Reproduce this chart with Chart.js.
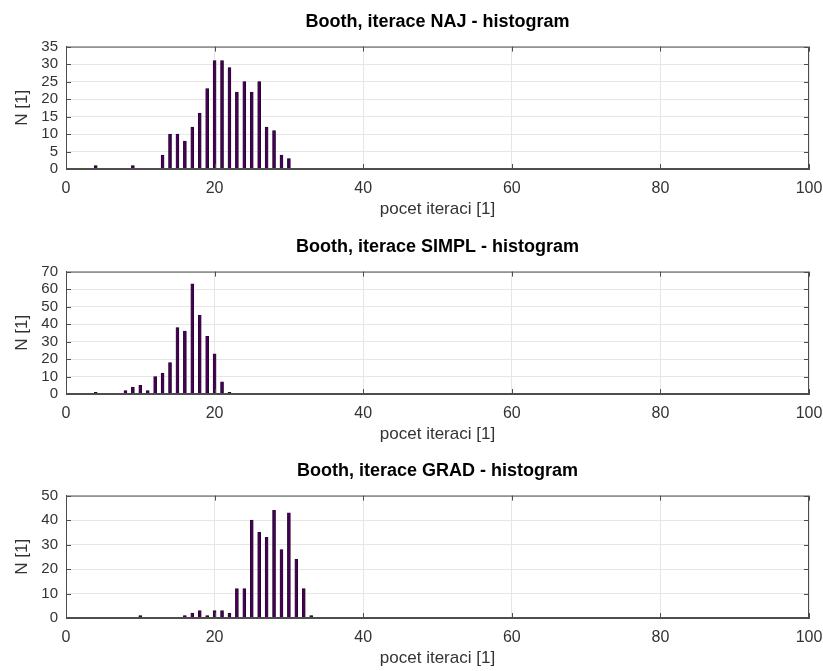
<!DOCTYPE html>
<html>
<head>
<meta charset="utf-8">
<script src="https://cdn.jsdelivr.net/npm/chart.js@4"></script>
<style>
  body { margin: 0; background: #fff; }
  .plot { position: absolute; left: 0; width: 823px; height: 224px; }
</style>
</head>
<body>
<div class="plot" style="top:0"><canvas id="naj"></canvas></div>
<div class="plot" style="top:225px"><canvas id="simpl"></canvas></div>
<div class="plot" style="top:449px"><canvas id="grad"></canvas></div>
<script>
// pocty iteraci a jejich cetnosti pro jednotlive metody
const najIter = [4, 9, 13, 14, 15, 16, 17, 18, 19, 20, 21, 22, 23, 24, 25, 26, 27, 28, 29, 30];
const najN    = [1, 1, 4, 10, 10, 8, 12, 16, 23, 31, 31, 29, 22, 25, 22, 25, 12, 11, 4, 3];

const simplIter = [4, 8, 9, 10, 11, 12, 13, 14, 15, 16, 17, 18, 19, 20, 21, 22];
const simplN    = [1, 2, 4, 5, 2, 10, 12, 18, 38, 36, 63, 45, 33, 23, 7, 1];

const gradIter = [10, 16, 17, 18, 19, 20, 21, 22, 23, 24, 25, 26, 27, 28, 29, 30, 31, 32, 33];
const gradN    = [1, 1, 2, 3, 1, 3, 3, 2, 12, 12, 40, 35, 33, 44, 28, 43, 24, 12, 1];

const xTicks = [0, 20, 40, 60, 80, 100];

const FONT = "'Liberation Sans', Arial, sans-serif";
const AXIS = '#4d4d4d';

// ramecek okolo grafu a kratke znacky smerem dovnitr
const boxPlugin = {
  id: 'box',
  afterDraw(chart) {
    const { ctx, chartArea: a, scales } = chart;
    ctx.save();
    ctx.strokeStyle = AXIS;
    ctx.lineWidth = 1;
    ctx.strokeRect(a.left + 0.5, a.top + 0.5, a.right - a.left - 1, a.bottom - a.top - 1);
    ctx.beginPath();
    scales.x.ticks.forEach(t => {
      const px = Math.round(scales.x.getPixelForValue(t.value)) + 0.5;
      ctx.moveTo(px, a.top); ctx.lineTo(px, a.top + 5);
      ctx.moveTo(px, a.bottom); ctx.lineTo(px, a.bottom - 5);
    });
    scales.y.ticks.forEach(t => {
      const py = Math.round(scales.y.getPixelForValue(t.value)) + 0.5;
      ctx.moveTo(a.left, py); ctx.lineTo(a.left + 5, py);
      ctx.moveTo(a.right, py); ctx.lineTo(a.right - 5, py);
    });
    ctx.stroke();
    ctx.restore();
  }
};

function histogram(id, title, iter, counts, yMax, yStep) {
  new Chart(document.getElementById(id), {
    type: 'bar',
    data: {
      datasets: [{
        data: iter.map((v, i) => ({ x: v, y: counts[i] })),
        backgroundColor: '#440154',
        borderColor: '#1a0a1e',
        borderWidth: 0.6,
        barThickness: 3
      }]
    },
    options: {
      responsive: true,
      maintainAspectRatio: false,
      animation: false,
      layout: { padding: { left: 12, right: 0, top: 0, bottom: 4 } },
      plugins: {
        legend: { display: false },
        tooltip: { enabled: false },
        title: {
          display: true,
          fullSize: false,
          text: title,
          color: '#000',
          font: { family: FONT, size: 18, weight: 'bold' },
          padding: { top: 11, bottom: 14 }
        }
      },
      scales: {
        x: {
          type: 'linear',
          offset: false,
          min: 0,
          max: 100,
          afterBuildTicks: s => { s.ticks = xTicks.map(v => ({ value: v })); },
          afterFit: s => { s.height = 51; s.paddingRight = 14; },
          ticks: { color: '#333', font: { family: FONT, size: 16 }, padding: 10 },
          grid: { color: '#e6e6e6', drawTicks: false, offset: false },
          border: { color: AXIS },
          title: {
            display: true,
            text: 'pocet iteraci [1]',
            color: '#333',
            font: { family: FONT, size: 17 },
            padding: { top: 0, bottom: 0 }
          }
        },
        y: {
          min: 0,
          max: yMax,
          afterFit: s => { s.width = 54; },
          ticks: { stepSize: yStep, autoSkip: false, color: '#333', font: { family: FONT, size: 15 }, padding: 8 },
          grid: { color: '#e6e6e6', drawTicks: false },
          border: { color: AXIS },
          title: {
            display: true,
            text: 'N [1]',
            color: '#333',
            font: { family: FONT, size: 17 },
            padding: { top: 0, bottom: 0 }
          }
        }
      }
    },
    plugins: [boxPlugin]
  });
}

histogram('naj', 'Booth, iterace NAJ - histogram', najIter, najN, 35, 5);
histogram('simpl', 'Booth, iterace SIMPL - histogram', simplIter, simplN, 70, 10);
histogram('grad', 'Booth, iterace GRAD - histogram', gradIter, gradN, 50, 10);
</script>
</body>
</html>
